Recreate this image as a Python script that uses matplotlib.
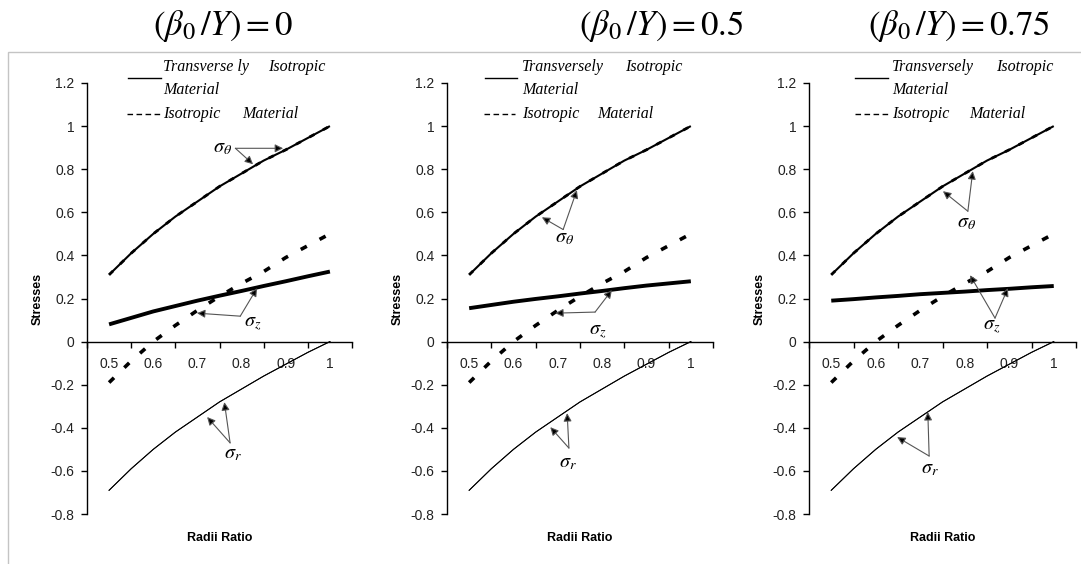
import matplotlib
matplotlib.use("Agg")
import matplotlib.pyplot as plt
from matplotlib.patches import Rectangle
from matplotlib.lines import Line2D

plt.rcParams['mathtext.fontset'] = 'stix'
plt.rcParams['font.family'] = ['Liberation Sans', 'DejaVu Sans']

# ---------------- data ----------------
radii = [0.5, 0.55, 0.6, 0.65, 0.7, 0.75, 0.8, 0.85, 0.9, 0.95, 1.0]

# isotropic material (same in all panels)
iso_theta = [0.31, 0.41, 0.50, 0.58, 0.65, 0.72, 0.78, 0.84, 0.89, 0.945, 1.0]
iso_z = [-0.19, -0.09, 0.0, 0.075, 0.145, 0.21, 0.27, 0.325, 0.39, 0.445, 0.5]
iso_r = [-0.69, -0.59, -0.50, -0.42, -0.35, -0.28, -0.22, -0.16, -0.105, -0.05, 0.0]

# transversely isotropic material
trans_theta = [0.31, 0.41, 0.50, 0.58, 0.65, 0.72, 0.78, 0.84, 0.89, 0.945, 1.0]
trans_r = [-0.69, -0.59, -0.50, -0.42, -0.35, -0.28, -0.22, -0.16, -0.105, -0.05, 0.0]
trans_z_b0 = [0.08, 0.11, 0.14, 0.165, 0.19, 0.213, 0.235, 0.258, 0.28, 0.303, 0.325]
trans_z_b05 = [0.155, 0.17, 0.185, 0.198, 0.21, 0.223, 0.235, 0.248, 0.26, 0.27, 0.28]
trans_z_b075 = [0.19, 0.197, 0.205, 0.212, 0.22, 0.226, 0.232, 0.239, 0.245, 0.252, 0.258]

panel_titles = [r'$\left(\beta_{0}\,/Y\right) = 0$', r'$\left(\beta_{0}\,/Y\right) = 0.5$',
                r'$\left(\beta_{0}\,/Y\right) = 0.75$']
trans_z_sets = [trans_z_b0, trans_z_b05, trans_z_b075]
legend_first = ['Transverse ly', 'Transversely', 'Transversely']

xtick_vals = [0.5, 0.6, 0.7, 0.8, 0.9, 1.0]
xtick_labels = ['0.5', '0.6', '0.7', '0.8', '0.9', '1']
ytick_vals = [-0.8, -0.6, -0.4, -0.2, 0.0, 0.2, 0.4, 0.6, 0.8, 1.0, 1.2]
ytick_labels = ['-0.8', '-0.6', '-0.4', '-0.2', '0', '0.2', '0.4', '0.6', '0.8', '1', '1.2']
xbound_ticks = [0.45, 0.55, 0.65, 0.75, 0.85, 0.95, 1.05]

# annotation layout (data coords): label, origin, tip1, tip2
annots = [
    {'theta': ((0.756, 0.902), (0.786, 0.897), (0.894, 0.897), (0.826, 0.823)),
     'z': ((0.826, 0.085), (0.797, 0.118), (0.699, 0.132), (0.835, 0.248)),
     'r': ((0.781, -0.52), (0.774, -0.47), (0.722, -0.35), (0.761, -0.281))},
    {'theta': ((0.714, 0.485), (0.712, 0.52), (0.664, 0.577), (0.743, 0.703)),
     'z': ((0.789, 0.049), (0.784, 0.137), (0.694, 0.132), (0.822, 0.239)),
     'r': ((0.723, -0.56), (0.725, -0.494), (0.683, -0.397), (0.721, -0.332))},
    {'theta': ((0.805, 0.554), (0.807, 0.605), (0.751, 0.698), (0.818, 0.791)),
     'z': ((0.861, 0.07), (0.868, 0.109), (0.812, 0.308), (0.897, 0.248)),
     'r': ((0.722, -0.59), (0.72, -0.531), (0.648, -0.443), (0.717, -0.327))},
]
sym = {'theta': r'$\sigma_\theta$', 'z': r'$\sigma_z$', 'r': r'$\sigma_r$'}

W, H = 1081, 564
fig = plt.figure(figsize=(W / 100, H / 100), dpi=100)

# chart-area border
fig.patches.append(Rectangle((8 / W, -0.02), 1.2, (H - 52) / H + 0.02,
                             transform=fig.transFigure, fill=False,
                             ec='#c4c4c4', lw=1.0))

axes_px = [(87, 352), (447, 713), (809, 1076)]
title_cx = [223, 661, 959]
legend_px = [
    dict(l0=0.155, l1=0.279, t=0.287, iso2=0.683, d0=0.151, d1=0.275, mat=0.585),
    dict(l0=0.143, l1=0.263, t=0.282, iso2=0.669, d0=0.139, d1=0.256, mat=0.564),
    dict(l0=0.172, l1=0.296, t=0.311, iso2=0.700, d0=0.172, d1=0.296, mat=0.599),
]
top_px, bot_px = 83, 514
serif = ['Liberation Serif', 'DejaVu Serif']
lfs = 11.5

for i in range(3):
    x0, x1 = axes_px[i]
    ax = fig.add_axes([x0 / W, (H - bot_px) / H, (x1 - x0) / W, (bot_px - top_px) / H])
    ax.set_xlim(0.45, 1.05)
    ax.set_ylim(-0.8, 1.2)
    ax.patch.set_alpha(0)
    for s in ['top', 'right']:
        ax.spines[s].set_visible(False)
    ax.spines['bottom'].set_position(('data', 0))
    ax.spines['left'].set_linewidth(1.0)
    ax.spines['bottom'].set_linewidth(1.0)

    ax.set_yticks(ytick_vals)
    ax.set_yticklabels(ytick_labels)
    ax.tick_params(axis='y', direction='out', length=4, width=1, pad=5,
                   labelsize=10, labelcolor='#222222')
    ax.set_xticks(xbound_ticks)
    ax.set_xticklabels([])
    ax.set_xticks(xtick_vals, minor=True)
    ax.set_xticklabels(xtick_labels, minor=True)
    ax.tick_params(axis='x', which='major', direction='out', length=4, width=1)
    ax.tick_params(axis='x', which='minor', length=0, pad=11, labelsize=10,
                   labelcolor='#222222')

    # curves
    ax.plot(radii, trans_theta, color='black', lw=1.5, solid_capstyle='butt')
    ax.plot(radii, iso_theta, color='black', lw=2.0, dashes=(2.0, 3.5))
    ax.plot(radii, trans_r, color='black', lw=0.7)
    ax.plot(radii, iso_r, color='black', lw=0.7)
    ax.plot(radii, trans_z_sets[i], color='black', lw=2.8, solid_capstyle='butt')
    ax.plot(radii, iso_z, color='black', lw=2.6, dashes=(1.9, 4.0))

    # annotations
    for key, (lab, org, t1, t2) in annots[i].items():
        for tip in (t1, t2):
            ax.annotate('', xy=tip, xytext=org,
                        arrowprops=dict(arrowstyle='-|>', ec='#555555', fc='black',
                                        lw=0.8, mutation_scale=12,
                                        shrinkA=0, shrinkB=0))
        ax.text(lab[0], lab[1], sym[key], fontsize=14.5, ha='center', va='center')

    # axis titles
    ax.text(-0.185, 0.5, 'Stresses', transform=ax.transAxes, rotation=90,
            ha='center', va='center', fontsize=9, fontweight='bold')
    ax.text(0.5, -0.056, 'Radii Ratio', transform=ax.transAxes,
            ha='center', va='center', fontsize=9, fontweight='bold')

    # legend (hand-built like the original)
    lp = legend_px[i]
    ax.add_line(Line2D([lp['l0'], lp['l1']], [1.0116, 1.0116], transform=ax.transAxes,
                       color='black', lw=1.0, clip_on=False))
    ax.text(lp['t'], 1.037, legend_first[i], transform=ax.transAxes, family=serif,
            style='italic', fontsize=lfs, ha='left', va='center')
    ax.text(lp['iso2'], 1.037, 'Isotropic', transform=ax.transAxes, family=serif,
            style='italic', fontsize=lfs, ha='left', va='center')
    ax.text(lp['t'], 0.984, 'Material', transform=ax.transAxes, family=serif,
            style='italic', fontsize=lfs, ha='left', va='center')
    ax.add_line(Line2D([lp['d0'], lp['d1']], [0.928, 0.928], transform=ax.transAxes,
                       color='black', lw=1.0, dashes=(4, 2.5), clip_on=False))
    ax.text(lp['t'], 0.928, 'Isotropic', transform=ax.transAxes, family=serif,
            style='italic', fontsize=lfs, ha='left', va='center')
    ax.text(lp['mat'], 0.928, 'Material', transform=ax.transAxes, family=serif,
            style='italic', fontsize=lfs, ha='left', va='center')

    # panel title
    fig.text(title_cx[i] / W, (H - 35) / H, panel_titles[i], fontsize=25,
             ha='center', va='baseline')

fig.savefig('out.png', dpi=100)
